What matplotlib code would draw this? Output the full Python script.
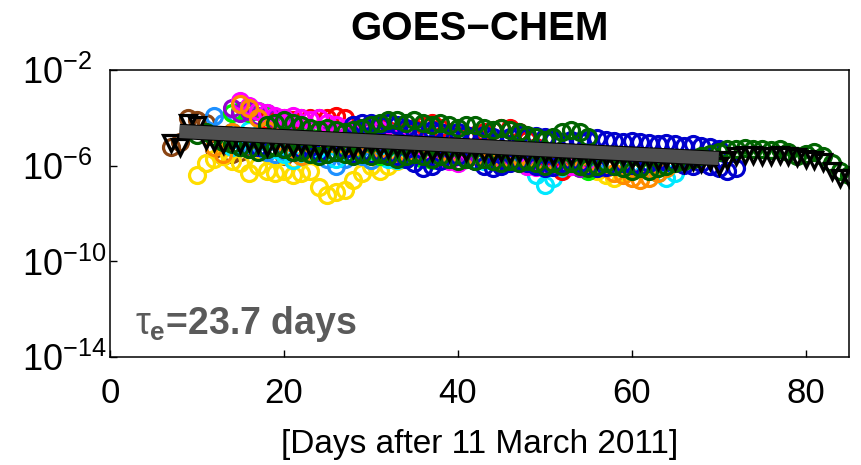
import numpy as np
import matplotlib
matplotlib.use("Agg")
import matplotlib.pyplot as plt
import matplotlib.patheffects as pe

plt.rcParams['font.family'] = ['Liberation Sans', 'DejaVu Sans']
plt.rcParams['mathtext.fontset'] = 'custom'
plt.rcParams['mathtext.rm'] = 'Liberation Sans'
plt.rcParams['mathtext.it'] = 'Liberation Sans'
plt.rcParams['mathtext.bf'] = 'Liberation Sans:bold'

# ---- data (log10 of concentration), one value per day from the start day ----
brown_start = 7
brown_log = [-5.2, -5.0, -4.0, -4.1, -4.2, -5.3, -5.6, -5.5, -5.4, -5.1, -4.9, -5.0, -5.3, -5.6]

orange_start = 12
orange_log = [-5.2, -5.5, -4.6, -3.4, -3.6, -4.0, -4.5, -4.8, -5.0, -5.3, -5.6, -5.2, -5.0, -4.9,
              -5.1, -5.3, -5.2, -5.0, -5.1, -5.3, -5.4, -5.5, -5.4, -5.5, -5.6, -5.5, -5.4, -5.5,
              -5.6, -5.7, -5.6, -5.5, -5.6, -5.8, -5.7, -5.6, -5.7, -5.9, -5.8, -5.9, -6.0, -5.7,
              -5.6, -5.9, -6.0, -6.1, -6.3, -6.4, -6.5, -6.6, -6.5, -6.3, -6.1]

yellow_start = 10
yellow_log = [-6.4, -5.9, -5.7, -5.6, -5.8, -5.9, -6.3, -6.0, -6.2, -6.3, -6.2, -6.4, -6.3, -6.2,
              -6.9, -7.2, -7.1, -7.0, -6.6, -6.3, -6.0, -6.2, -6.0, -5.8, -5.7, -5.6, -5.5, -5.6,
              -5.5, -5.4, -5.5, -5.6, -5.6, -5.5, -5.6, -5.7, -5.6, -5.7, -5.8, -5.7, -5.8, -5.9,
              -5.8, -5.9, -6.0, -6.1, -6.2, -6.4, -6.5, -6.3, -6.2, -6.1, -6.0, -6.1]

dodger_start = 12
dodger_log = [-3.9, -4.2, -4.6, -4.9, -5.1, -5.2, -5.4, -5.5, -5.4, -5.3, -5.2, -5.3, -5.5, -5.7,
              -6.0, -5.7, -5.5, -5.6, -5.75, -5.6, -5.5, -5.6, -5.5, -5.4, -5.5, -5.6, -5.5, -5.4,
              -5.5, -5.6, -5.5, -5.6, -5.7, -5.6, -5.5, -5.6, -5.7, -5.6, -5.7, -5.8, -5.7, -5.6,
              -5.7, -5.8, -5.7, -5.8, -5.9, -5.8, -5.9, -6.0, -5.9]

cyan_start = 14
cyan_log = [-5.2, -4.9, -4.5, -4.7, -5.0, -5.3, -5.5, -5.75, -5.6, -5.4, -5.3, -5.5, -5.7, -5.5,
            -5.3, -5.4, -5.5, -5.6, -5.7, -5.75, -5.6, -5.5, -5.6, -5.7, -5.6, -5.5, -5.6, -5.7,
            -5.75, -5.8, -5.7, -5.6, -5.7, -5.8, -6.0, -6.4, -6.8, -6.5, -6.1, -5.9, -5.8, -5.9,
            -6.1, -6.0, -5.9, -5.8, -5.9, -6.0, -6.1, -6.3, -6.5, -6.3]

lime_start = 14
lime_log = [-3.8, -3.7, -3.8, -3.7, -3.9, -4.1, -4.3, -4.5, -4.7, -4.8, -5.0, -5.1, -5.0, -5.2,
            -5.3, -5.4, -5.5, -5.6, -5.5, -5.6, -5.7, -5.6, -5.7, -5.75, -5.6, -5.5, -5.4, -5.5,
            -5.6, -5.5, -5.4, -5.5, -5.6, -5.7, -5.6, -5.7, -5.8, -5.9, -6.0, -5.9, -6.1, -6.2,
            -6.0, -5.9]

purple_start = 14
purple_log = [-3.6, -3.8, -3.7, -3.9, -3.8, -4.0, -4.2, -4.4, -4.3, -4.5, -4.6, -4.7, -4.6, -4.8,
              -4.7, -4.5, -4.4, -4.5, -4.6, -4.8, -4.9, -5.0, -5.1, -5.2, -5.3, -5.4, -5.5, -5.4,
              -5.5, -5.6, -5.5, -5.6, -5.7, -5.8, -5.7, -5.8, -5.9, -6.0, -5.9, -6.0, -6.1]

magenta_start = 15
magenta_log = [-3.3, -3.5, -3.7, -3.8, -3.9, -4.0, -3.9, -4.0, -4.1, -4.0, -4.2, -4.3, -4.4, -4.6,
               -4.8, -4.7, -4.5, -4.6, -4.8, -5.0, -5.2, -5.4, -5.6, -5.7, -5.8, -5.9, -5.7, -5.6,
               -5.5, -5.6, -5.7, -5.8, -5.9, -6.0, -6.05, -5.9, -5.8, -5.9, -6.0, -5.9, -5.8]

red_start = 18
red_log = [-4.1, -4.0, -4.0, -4.1, -4.0, -4.0, -4.0, -4.0, -3.9, -4.0, -4.3, -4.4, -4.5, -4.4,
           -4.5, -4.6, -4.5, -4.4, -4.3, -4.2, -4.4, -4.6, -4.7, -4.8, -4.7, -4.6, -4.5, -4.4,
           -4.4, -4.6, -4.9, -5.2, -5.6, -6.0, -6.2, -6.0, -5.8]

blue_top_start = 28
blue_top_log = [-4.3, -4.2, -4.2, -4.3, -4.2, -4.3, -4.4, -4.5, -4.6, -4.5, -4.6, -4.7, -4.6, -4.7,
                -4.8, -4.7, -4.8, -4.9, -4.8, -4.7, -4.8, -4.75, -4.8, -4.9, -5.0, -4.9, -4.95,
                -4.9, -4.85, -4.9, -4.95, -5.0, -4.95, -5.0, -5.05, -5.1, -5.05, -5.1, -5.15,
                -5.1, -5.15, -5.2, -5.3]

blue_low_start = 15
blue_low_log = [-5.2, -5.3, -5.2, -5.3, -5.2, -5.3, -5.4, -5.3, -5.2, -5.4, -5.5, -5.4, -5.3, -5.5,
                -5.4, -5.5, -5.4, -5.5, -5.6, -5.7, -5.9, -6.1, -6.0, -5.8, -5.7, -5.6, -5.7, -5.8,
                -6.0, -6.1, -6.0, -5.9, -5.8, -5.9, -6.0, -6.1, -6.05, -5.9, -5.8, -5.9, -6.0,
                -6.1, -6.05, -6.0, -5.9, -5.95, -6.0, -5.9, -5.8, -5.85, -5.9, -5.95, -6.0, -5.9,
                -6.0, -6.1, -6.2, -6.1]

dgreen_top_start = 18
dgreen_top_log = [-4.3, -4.2, -4.1, -4.2, -4.3, -4.4, -4.5, -4.4, -4.5, -4.6, -4.5, -4.4, -4.3,
                  -4.2, -4.1, -4.1, -4.2, -4.1, -4.2, -4.3, -4.2, -4.3, -4.4, -4.3, -4.3, -4.4,
                  -4.5, -4.4, -4.5, -4.6, -4.7, -4.8, -4.9, -4.8, -4.6, -4.5, -4.6, -4.8]

dgreen_low_start = 10
dgreen_low_log = [-4.7, -4.6, -4.8, -5.0, -5.1, -5.2, -5.3, -5.4, -5.3, -5.2, -5.3, -5.4, -5.4,
                  -5.5, -5.6, -5.5, -5.4, -5.5, -5.6, -5.5, -5.6, -5.5, -5.6, -5.7, -5.6, -5.5,
                  -5.6, -5.7, -5.6, -5.7, -5.8, -5.7, -5.8, -5.7, -5.8, -5.9, -5.8, -5.9, -5.8,
                  -5.9, -6.0, -5.9, -6.0, -5.9, -6.0, -6.1, -6.0, -5.9, -6.0, -6.1, -6.2, -6.1,
                  -6.2, -6.1, -6.0, -5.9, -5.8, -5.7, -5.6, -5.5, -5.4, -5.3, -5.3, -5.25, -5.3,
                  -5.3, -5.35, -5.3, -5.4, -5.6, -5.5, -5.4, -5.6, -5.9, -6.2, -6.4]

tri_start = 7
tri_log = [-5.05, -5.2, -4.2, -4.3, -4.9, -5.0, -5.1, -5.0, -5.1, -5.0, -5.1, -5.2, -5.1, -5.0,
           -5.2, -5.1, -5.2, -5.3, -5.2, -5.1, -5.2, -5.3, -5.2, -5.1, -5.2, -5.3, -5.2, -5.3,
           -5.2, -5.3, -5.4, -5.3, -5.4, -5.3, -5.4, -5.3, -5.4, -5.5, -5.4, -5.5, -5.4, -5.5,
           -5.4, -5.5, -5.6, -5.5, -5.6, -5.5, -5.6, -5.7, -5.6, -5.7, -5.6, -5.7, -5.8, -5.7,
           -5.8, -5.7, -5.8, -5.9, -5.8, -5.9, -5.8, -6.0, -5.75, -5.6, -5.55, -5.55, -5.6,
           -5.6, -5.55, -5.6, -5.65, -5.7, -5.75, -5.85, -6.2, -6.5, -6.5]

fit_days = [8, 70]
fit_vals = [2.75e-5, 2.04e-6]
tau_days = 23.7

x_ticks = [0, 20, 40, 60, 80]
y_ticks = [1e-14, 1e-10, 1e-6, 1e-2]
y_tick_labels = [r'$10^{-14}$', r'$10^{-10}$', r'$10^{-6}$', r'$10^{-2}$']

circle_series = [
    (brown_start, brown_log, '#8B4513'),
    (yellow_start, yellow_log, '#FFDD00'),
    (dodger_start, dodger_log, '#1E90FF'),
    (cyan_start, cyan_log, '#00E8FF'),
    (lime_start, lime_log, '#00EE00'),
    (red_start, red_log, '#FF0000'),
    (purple_start, purple_log, '#9400D3'),
    (magenta_start, magenta_log, '#FF00FF'),
    (orange_start, orange_log, '#FF8C00'),
    (blue_low_start, blue_low_log, '#0000CD'),
    (blue_top_start, blue_top_log, '#0000CD'),
    (dgreen_low_start, dgreen_low_log, '#006400'),
    (dgreen_top_start, dgreen_top_log, '#006400'),
]

fig = plt.figure(figsize=(8.62, 4.65), dpi=100)
ax = fig.add_axes([0.1276, 0.232, 0.8574, 0.617])

for start, vals, col in circle_series:
    days = np.arange(start, start + len(vals))
    ax.plot(days, 10.0 ** np.array(vals), linestyle='none', marker='o', markersize=11.5,
            markerfacecolor='none', markeredgecolor=col, markeredgewidth=2.3)

tdays = np.arange(tri_start, tri_start + len(tri_log))
ax.plot(tdays, 10.0 ** np.array(tri_log), linestyle='none', marker='v', markersize=12,
        markerfacecolor='none', markeredgecolor='black', markeredgewidth=2.3)

ax.plot(fit_days, fit_vals, color='#505050', linewidth=9.5, solid_capstyle='butt',
        path_effects=[pe.Stroke(linewidth=11, foreground='black', capstyle='butt'), pe.Normal()])

ax.set_yscale('log')
ax.set_ylim(1e-14, 1e-2)
ax.set_xlim(0, 85)
ax.yaxis.set_minor_locator(matplotlib.ticker.NullLocator())
ax.set_yticks(y_ticks)
ax.set_yticklabels(y_tick_labels)
ax.set_xticks(x_ticks)
ax.tick_params(direction='in', length=5, width=1)
ax.tick_params(axis='x', pad=14, labelsize=25)
ax.tick_params(axis='y', pad=63, labelsize=26)
for lbl in ax.get_yticklabels():
    lbl.set_horizontalalignment('left')
for s in ax.spines.values():
    s.set_linewidth(1.1)

ax.set_title('GOES\u2212CHEM', fontsize=29, fontweight='bold', pad=22)
ax.set_xlabel('[Days after 11 March 2011]', fontsize=24, labelpad=14)

ax.text(2.9, 10 ** -13.04, r'$\tau_{\mathbf{e}}$=%.1f days' % tau_days, fontsize=27,
        fontweight='bold', color='#5a5a5a', va='baseline', ha='left')

fig.savefig('out.png', dpi=100)
